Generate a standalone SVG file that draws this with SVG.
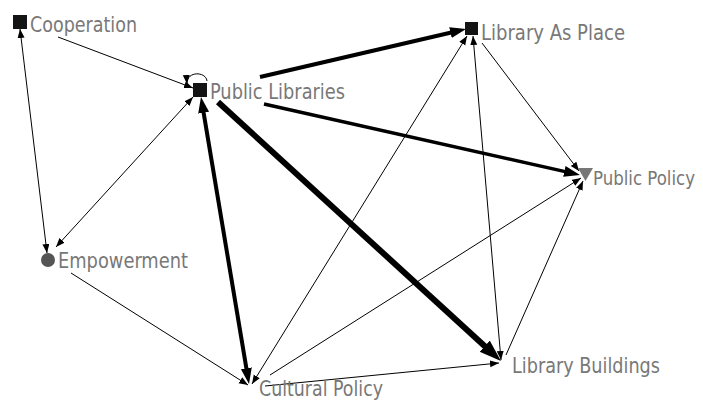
<svg xmlns="http://www.w3.org/2000/svg" width="703" height="401" viewBox="0 0 703 401">
<style>
.e{stroke:#000;fill:none;stroke-width:1}
.t{font-family:"DejaVu Sans Condensed","DejaVu Sans",sans-serif;font-size:21px;fill:#787878}
.sq{fill:#141414}
</style>
<defs>
<marker id="a1" markerUnits="userSpaceOnUse" markerWidth="10" markerHeight="8" refX="9" refY="3.5" orient="auto-start-reverse" viewBox="0 0 10 8"><path d="M0,0 L9,3.5 L0,7 z" fill="#000"/></marker>
<marker id="a4" markerUnits="userSpaceOnUse" markerWidth="18" markerHeight="12" refX="2" refY="5.5" orient="auto-start-reverse" viewBox="0 0 18 12"><path d="M0,0 L16,5.5 L0,11 z" fill="#000"/></marker>
<marker id="a6" markerUnits="userSpaceOnUse" markerWidth="24" markerHeight="16" refX="2" refY="7.5" orient="auto-start-reverse" viewBox="0 0 24 16"><path d="M0,0 L22,7.5 L0,15 z" fill="#000"/></marker>
</defs>
<rect width="703" height="401" fill="#fff"/>
<g id="connectors">
<line class="e" x1="20" y1="29" x2="47" y2="253" marker-start="url(#a1)" marker-end="url(#a1)"/>
<line class="e" x1="58" y1="37" x2="193" y2="88" marker-end="url(#a1)"/>
<line class="e" x1="56" y1="247" x2="193" y2="97" marker-start="url(#a1)" marker-end="url(#a1)"/>
<line class="e" x1="71" y1="273" x2="248" y2="385" marker-end="url(#a1)"/>
<line class="e" x1="467" y1="36" x2="252" y2="384" marker-start="url(#a1)" marker-end="url(#a1)"/>
<line class="e" x1="473" y1="36" x2="501" y2="360" marker-start="url(#a1)" marker-end="url(#a1)"/>
<line class="e" x1="482" y1="43" x2="579" y2="171" marker-end="url(#a1)"/>
<line class="e" x1="270" y1="375" x2="581" y2="178" marker-end="url(#a1)"/>
<line class="e" x1="506" y1="355" x2="583" y2="181" marker-end="url(#a1)"/>
<line class="e" x1="265" y1="386" x2="499" y2="363" marker-end="url(#a1)"/>
<path class="e" d="M207,81 C206,71 186,71 187,84" marker-end="url(#a1)"/>
<line class="e" style="stroke-width:4" x1="203.3" y1="110.8" x2="246.7" y2="370.2" marker-start="url(#a4)" marker-end="url(#a4)"/>
<line class="e" style="stroke-width:6" x1="218" y1="102" x2="486.2" y2="347.5" marker-end="url(#a6)"/>
<line class="e" style="stroke-width:4" x1="260" y1="77" x2="452.4" y2="32.2" marker-end="url(#a4)"/>
<line class="e" style="stroke-width:3.5" x1="264" y1="104" x2="566.3" y2="171.9" marker-end="url(#a4)"/>
</g>
<g id="cooperation"><rect class="sq" x="13" y="15" width="14" height="14"/><text class="t" x="30" y="32" textLength="107" lengthAdjust="spacingAndGlyphs">Cooperation</text></g>
<g id="public-libraries"><rect class="sq" x="193" y="83" width="14" height="14"/><text class="t" x="210" y="99" textLength="135" lengthAdjust="spacingAndGlyphs">Public Libraries</text></g>
<g id="library-as-place"><rect class="sq" x="465" y="22" width="13" height="13"/><text class="t" x="481" y="40" textLength="144" lengthAdjust="spacingAndGlyphs">Library As Place</text></g>
<g id="public-policy"><path d="M578,168 L593,168 L585.5,181 z" fill="#777"/><text class="t" style="font-size:20px" x="593" y="185" textLength="102" lengthAdjust="spacingAndGlyphs">Public Policy</text></g>
<g id="empowerment"><circle cx="48" cy="260" r="7" fill="#555"/><text class="t" x="58" y="268" textLength="130" lengthAdjust="spacingAndGlyphs">Empowerment</text></g>
<g id="cultural-policy"><text class="t" x="259" y="396" textLength="124" lengthAdjust="spacingAndGlyphs">Cultural Policy</text></g>
<g id="library-buildings"><text class="t" x="512" y="373" textLength="148" lengthAdjust="spacingAndGlyphs">Library Buildings</text></g>
</svg>
